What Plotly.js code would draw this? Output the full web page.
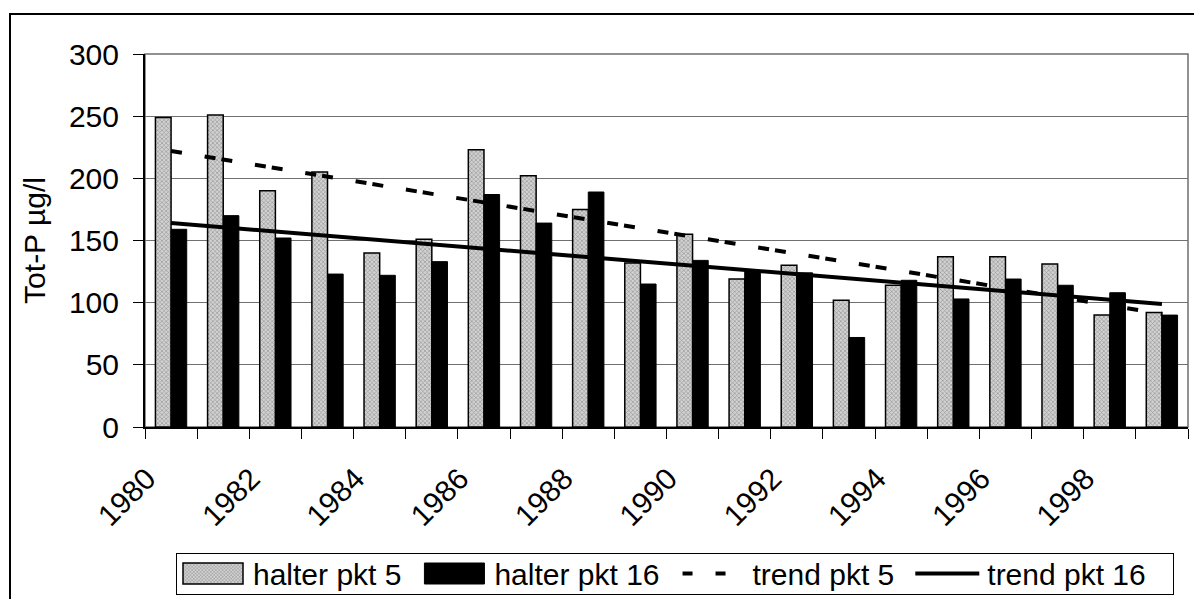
<!DOCTYPE html>
<html>
<head>
<meta charset="utf-8">
<script src="https://cdn.plot.ly/plotly-3.0.1.min.js"></script>
<style>
  html, body { margin: 0; padding: 0; background: #fff; }
  #wrap { position: relative; width: 1194px; height: 599px; overflow: hidden; }
  #frame { position: absolute; left: 9px; top: 13px; width: 1200px; height: 600px; border: 2px solid #000; box-sizing: border-box; pointer-events: none; }
  #chart { position: absolute; left: 0; top: 0; width: 1194px; height: 599px; }
</style>
</head>
<body>
<div id="wrap">
  <div id="chart"></div>
  <div id="frame"></div>
</div>
<script>
const years = [1980,1981,1982,1983,1984,1985,1986,1987,1988,1989,1990,1991,1992,1993,1994,1995,1996,1997,1998,1999];
const pkt5  = [249,251,190,205,140,151,223,202,175,132,155,119,130,102,114,137,137,131,90,92];
const pkt16 = [159,170,152,123,122,133,187,164,189,115,134,125,124,72,118,103,119,114,108,90];
const trendYears = [1980, 1999];
const trend5  = [222, 91];
const trend16 = [164, 99];
const seriesNames = ["halter pkt 5", "halter pkt 16", "trend pkt 5", "trend pkt 16"];
const yTitle = "Tot-P µg/l";

// bars sit in the middle of each year's slot
const mid = v => v + 0.5;
const FONT = "Liberation Sans, Arial, sans-serif";
const FS = 30;

const traces = [
  {
    type: "bar", name: seriesNames[0], x: years.map(mid), y: pkt5,
    marker: {
      color: "#cccccc",
      line: { color: "#000", width: 1.5 },
      pattern: { shape: "x", fgcolor: "#8c8c8c", bgcolor: "#d2d2d2", size: 3, solidity: 0.35 }
    }
  },
  {
    type: "bar", name: seriesNames[1], x: years.map(mid), y: pkt16,
    marker: { color: "#000", line: { color: "#000", width: 1 } }
  },
  {
    type: "scatter", mode: "lines", name: seriesNames[2], x: trendYears.map(mid), y: trend5,
    line: { color: "#000", width: 4, dash: "11px,23px,11px,6px" }
  },
  {
    type: "scatter", mode: "lines", name: seriesNames[3], x: trendYears.map(mid), y: trend16,
    line: { color: "#000", width: 4 }
  }
];

const layout = {
  width: 1194, height: 599,
  margin: { l: 145, r: 6, t: 54, b: 172, autoexpand: false },
  paper_bgcolor: "#fff", plot_bgcolor: "#fff",
  font: { family: FONT, size: FS, color: "#000" },
  showlegend: true,
  barmode: "group", bargap: 0.4, bargroupgap: 0,
  xaxis: {
    type: "linear", range: [years[0], years[years.length - 1] + 1],
    tick0: years[0], dtick: 2, tickangle: -45,
    ticks: "outside", ticklen: 10, tickcolor: "#000", tickwidth: 1,
    minor: { dtick: 1, ticks: "outside", ticklen: 10, tickcolor: "#000", tickwidth: 1, showgrid: false },
    showgrid: false, zeroline: false,
    showline: true, linecolor: "#000", linewidth: 2,
    tickfont: { size: FS, family: FONT },
    ticklabelstandoff: 10, ticklabelshift: 2,
    fixedrange: true
  },
  yaxis: {
    range: [0, 300], dtick: 50, tick0: 0,
    ticks: "outside", ticklen: 10, tickcolor: "#000", tickwidth: 1,
    showgrid: true, gridcolor: "#707070", gridwidth: 1,
    zeroline: false,
    showline: true, linecolor: "#000", linewidth: 2,
    tickfont: { size: FS, family: FONT },
    ticklabelstandoff: 8,
    title: { text: yTitle, font: { size: FS, family: FONT }, standoff: 14 },
    fixedrange: true
  },
  shapes: [
    { type: "rect", xref: "paper", yref: "paper", x0: 0, x1: 1, y0: 0, y1: 1,
      line: { color: "#6e6e6e", width: 1.5 }, layer: "below" }
  ],
  legend: {
    orientation: "h", x: 0.507, xanchor: "center", y: -0.33, yanchor: "top",
    bordercolor: "#000", borderwidth: 1, bgcolor: "#fff",
    font: { size: FS, family: FONT }, itemwidth: 78, traceorder: "normal",
    itemclick: false, itemdoubleclick: false
  }
};

function parseT(el) {
  const m = /translate\(\s*([-\d.e]+)[ ,]+([-\d.e]+)\s*\)/.exec(el.getAttribute("transform") || "");
  return m ? [parseFloat(m[1]), parseFloat(m[2])] : [0, 0];
}

// Excel-style legend keys: wide swatches, compact framed box
const KEY = { w: 60, h: 21, gapToText: 10, boxLeft: 253, boxCenterY: 573.5, boxH: 41, padL: 77, padR: 28 };

Plotly.newPlot("chart", traces, layout, { displayModeBar: false, staticPlot: true }).then(gd => {
  const leg = gd.querySelector("g.legend");
  if (!leg) return;
  const items = Array.from(leg.querySelectorAll("g.traces"));
  items.forEach((item, i) => {
    const txt = item.querySelector("text.legendtext");
    const tx = parseFloat(txt.getAttribute("x")) || 0;
    const x0 = tx - KEY.gapToText - KEY.w, x1 = tx - KEY.gapToText;
    item.querySelectorAll("g.legendpoints path").forEach(p => {
      p.setAttribute("transform", "");
      p.setAttribute("d", `M${x0},${-KEY.h / 2}H${x1}V${KEY.h / 2}H${x0}Z`);
    });
    item.querySelectorAll("g.legendlines path").forEach(p => {
      p.setAttribute("transform", "");
      p.style.strokeWidth = "4px";
      const tr = traces[i];
      if (tr && tr.line && tr.line.dash && tr.line.dash !== "solid") {
        p.setAttribute("d", `M${x0},0H${x0 + 43}`);
        p.style.strokeDasharray = "10px,23px";
      } else {
        p.setAttribute("d", `M${x0 - 2},0H${x1 + 2}`);
      }
    });
  });
  const firstTxt = items[0].querySelector("text.legendtext").getBoundingClientRect();
  const lastTxt = items[items.length - 1].querySelector("text.legendtext").getBoundingClientRect();
  const sw = items[0].querySelector("g.legendpoints path").getBoundingClientRect();
  const [lx, ly] = parseT(leg);
  const dx = KEY.boxLeft - firstTxt.left;
  const dy = KEY.boxCenterY - (sw.top + sw.height / 2);
  leg.setAttribute("transform", `translate(${lx + dx},${ly + dy})`);
  const bg = leg.querySelector("rect.bg");
  if (bg) {
    const left = KEY.boxLeft - KEY.padL;
    const right = lastTxt.right + dx + KEY.padR;
    bg.setAttribute("x", left - (lx + dx));
    bg.setAttribute("width", right - left);
    bg.setAttribute("y", KEY.boxCenterY - KEY.boxH / 2 - (ly + dy));
    bg.setAttribute("height", KEY.boxH);
  }
});
</script>
</body>
</html>
